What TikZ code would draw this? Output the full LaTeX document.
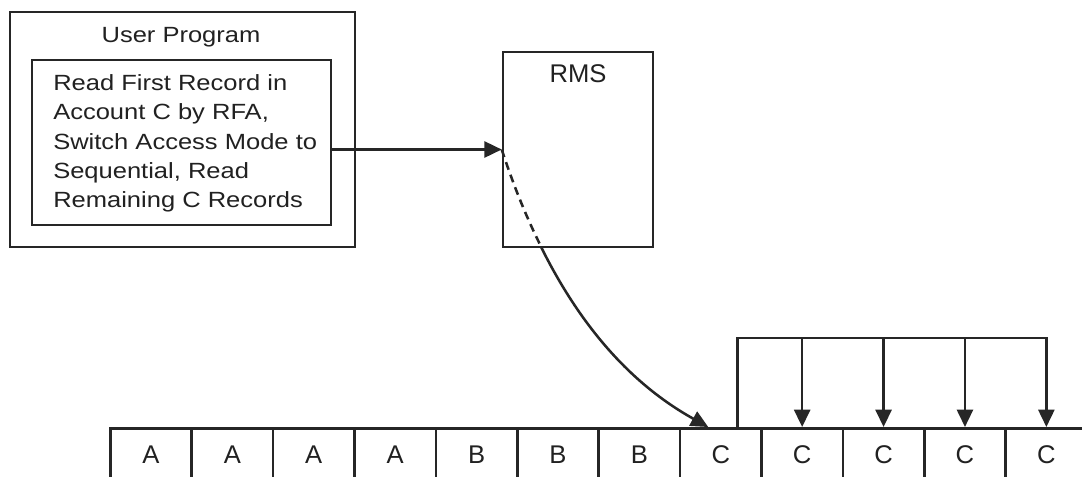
\documentclass[tikz,border=0pt]{standalone}
\usepackage{fontspec}
\setmainfont{Liberation Sans}
\newfontfamily\boxfont{Liberation Sans}[FakeStretch=1.16]
\usetikzlibrary{arrows.meta}
\begin{document}
\begin{tikzpicture}[x=0.75pt,y=-0.75pt,
  ln/.style={line width=1.9pt, draw=black!85},
  box/.style={ln, rectangle, inner sep=0pt},
  tip/.style={-{Triangle[length=13pt,width=12pt]}},
  boxtext/.style={font=\boxfont\fontsize{16.5}{21.9}\selectfont, inner sep=0pt, align=left, text=black!87},
  big/.style={font=\fontsize{19.2}{22}\selectfont, inner sep=0pt, text=black!87},
  cell/.style={box, big, minimum width=61.05pt, minimum height=39pt, anchor=north west}]
\useasboundingbox (0,0) rectangle (1082,476);
\clip (0,0) rectangle (1082,476);
\fill[white] (0,0) rectangle (1082,476);

% user program
\node[box, minimum width=258.75pt, minimum height=176.25pt] (user) at (182.5,129.5) {};
\node[boxtext] (ulabel) at (181,37) {User Program};
\node[box, minimum width=224.25pt, minimum height=123.75pt] (inner) at (181.5,142.5) {};
\node[boxtext, anchor=west] (itext) at (53,143.5) {Read First Record in\\Account C by RFA,\\Switch Access Mode to\\Sequential, Read\\Remaining C Records};

% RMS
\node[box, minimum width=112.5pt, minimum height=146.25pt] (rms) at (578,149.5) {};
\node[big] (rmslabel) at (578,74) {RMS};

% cells
\foreach \l [count=\i] in {A,A,A,A,B,B,B,C,C,C,C,C}
  \node[cell] (c\i) at ({109+(\i-1)*81.4},427) {\l};

% horizontal arrow
\draw[ln, tip] (inner.east |- rms.west) -- (rms.west);

% curved arrow: dashed inside RMS, solid below
\coordinate (cend) at ([xshift=-9.4pt]c8.north);
\begin{scope}
  \clip (0,0) rectangle (1082,247);
  \draw[ln, dash pattern=on 6pt off 4pt] (rms.west) .. controls (546,285) and (611,373) .. (cend);
\end{scope}
\begin{scope}
  \clip (0,247) rectangle (1082,476);
  \draw[ln, tip] (rms.west) .. controls (546,285) and (611,373) .. (cend);
\end{scope}

% bracket with down arrows
\coordinate (bl) at ([xshift=12.4pt]c8.north);
\draw[ln, tip] (bl) -- ++(0,-89) coordinate (bt) -| (c12.north);
\foreach \i in {9,10,11}
  \draw[ln, tip] (bt -| c\i.north) -- (c\i.north);
\end{tikzpicture}
\end{document}
